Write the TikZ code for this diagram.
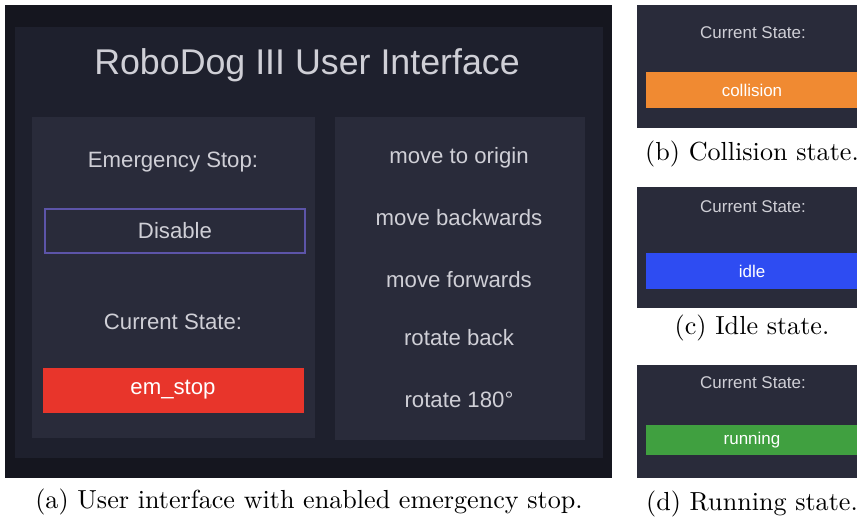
\documentclass[tikz,border=0pt]{standalone}
\usepackage{fontspec}
\newfontfamily\uifont{Liberation Sans}
\usepackage{tikz}

\definecolor{screenbg}{HTML}{15161F}
\definecolor{panelbg}{HTML}{1E202D}
\definecolor{cardbg}{HTML}{292B3A}
\definecolor{uitext}{HTML}{CFCFD6}
\definecolor{framepurple}{HTML}{5C54A8}
\definecolor{stopred}{HTML}{E8352B}
\definecolor{hitorange}{HTML}{F08A32}
\definecolor{idleblue}{HTML}{2E4CF2}
\definecolor{rungreen}{HTML}{40A040}

\tikzset{
  ui/.style={text=uitext, font={\uifont\fontsize{8.5}{10}\selectfont}},
  uismall/.style={text=uitext, font={\uifont\fontsize{6.5}{8}\selectfont}},
  caption/.style={text=black, font=\normalsize}
}

\begin{document}
\begin{tikzpicture}[x=0.383pt,y=-0.383pt]
  \useasboundingbox (0,0) rectangle (857,522);
  % main screenshot
  \fill[screenbg] (5,5) rectangle (612,478);
  \fill[panelbg] (15,27) rectangle (603,458);
  \fill[cardbg] (32,117) rectangle (315,438);
  \fill[cardbg] (335,117) rectangle (585,440);
  \node[ui, font={\uifont\fontsize{13.7}{16}\selectfont}] (title) at (307,65) {RoboDog III User Interface};
  \node[ui] (emlabel) at (173,162) {Emergency Stop:};
  \draw[framepurple, line width=0.6pt] (45,209) rectangle (305,253);
  \node[ui] (disable) at (175,231) {Disable};
  \node[ui] (cslabel) at (173,322) {Current State:};
  \fill[stopred] (43,368) rectangle (304,413);
  \node[ui, text=white] (state) at (173,390) {em\_stop};
  \foreach \y/\t/\n in {158/move to origin/origin, 218/move backwards/back,
                        280/move forwards/fwd, 338/rotate back/rotback,
                        400/rotate 180°/rot}
    \node[ui] (btn-\n) at (459,\y) {\t};
  \node[caption] (cap-a) at (309,502) {(a) User interface with enabled emergency stop.};
  % small screenshots
  \foreach \n/\top/\bot/\cs/\bt/\bb/\col/\txt/\cap in {
      b/5/128/33/72/108/hitorange/collision/Collision state.,
      c/187/308/207/253/289/idleblue/idle/Idle state.,
      d/365/478/383/425/455/rungreen/running/Running state.}
  {
    \fill[cardbg] (637,\top) rectangle (857,\bot);
    \node[uismall] (cs-\n) at (753,\cs) {Current State:};
    \fill[\col] (646,\bt) rectangle (857,\bb);
    \node[uismall, text=white] (st-\n) at (752,\bt/2+\bb/2) {\txt};
    \node[caption] (cap-\n) at (752,\cs+121) {(\n) \cap};
  }
\end{tikzpicture}
\end{document}
